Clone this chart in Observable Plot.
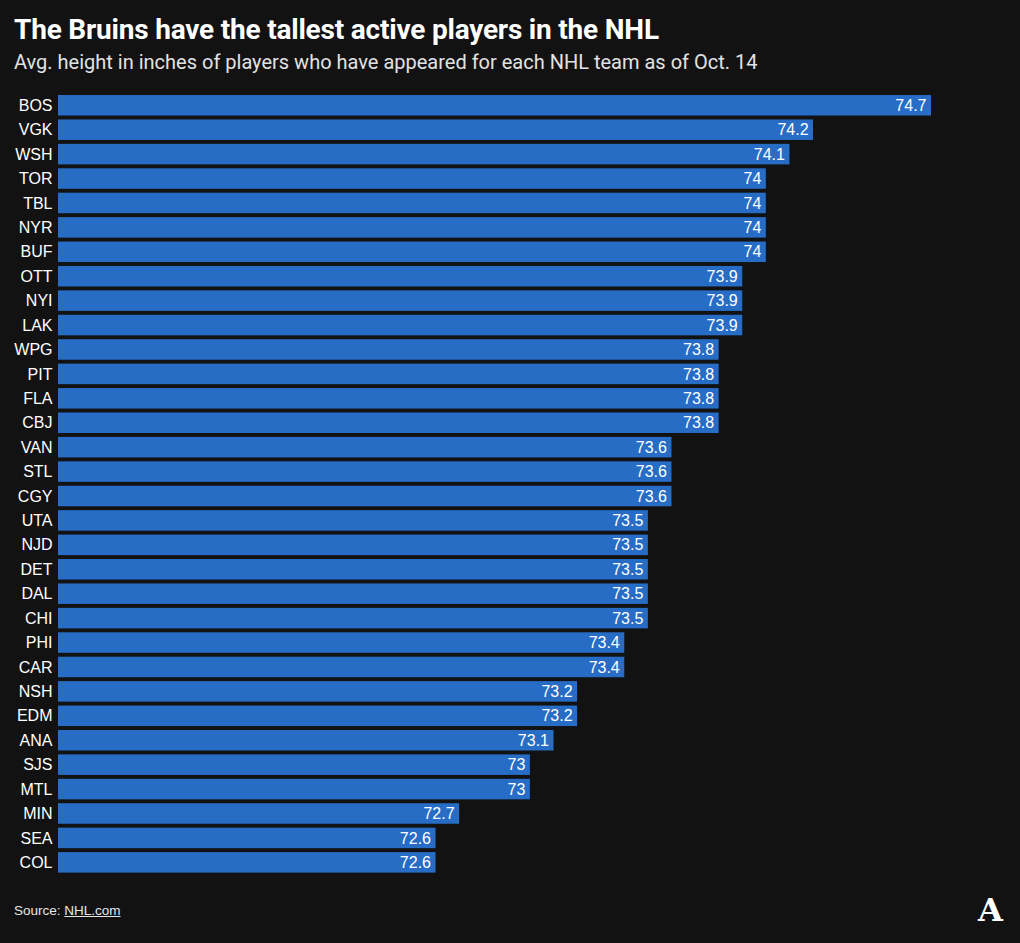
<!DOCTYPE html>
<html>
<head>
<meta charset="utf-8">
<script src="https://cdn.jsdelivr.net/npm/d3@7"></script>
<script src="https://cdn.jsdelivr.net/npm/@observablehq/plot@0.6"></script>
<style>
  html, body { margin: 0; padding: 0; background: #121212; width: 1020px; height: 943px; overflow: hidden; }
  body { position: relative; font-family: "Liberation Sans", Arial, sans-serif; color: #fff; }
  #title { position: absolute; left: 14px; top: 15px; font-family: Roboto, "Liberation Sans", sans-serif; font-weight: 700; font-size: 28px; line-height: 30px; color: #fff; letter-spacing: -0.2px; }
  #subtitle { position: absolute; left: 14px; top: 50px; font-family: Roboto, "Liberation Sans", sans-serif; font-size: 20px; line-height: 24px; color: #e2e2e2; }
  #chart { position: absolute; left: 0; top: 80px; line-height: 0; }
  #source { position: absolute; left: 14px; top: 903px; font-size: 13.5px; color: #e6e6e6; }
  #source a { color: #e6e6e6; text-decoration: underline; }
  #logo { position: absolute; left: 978px; top: 893px; font-family: "DejaVu Serif", serif; font-weight: 700; font-size: 32px; line-height: 34px; color: #fff; }
</style>
</head>
<body>
<div id="title">The Bruins have the tallest active players in the NHL</div>
<div id="subtitle">Avg. height in inches of players who have appeared for each NHL team as of Oct. 14</div>
<div id="chart"></div>
<div id="source">Source: <a>NHL.com</a></div>
<div id="logo">A</div>
<script>
const teams = ["BOS","VGK","WSH","TOR","TBL","NYR","BUF","OTT","NYI","LAK","WPG","PIT","FLA","CBJ","VAN","STL","CGY","UTA","NJD","DET","DAL","CHI","PHI","CAR","NSH","EDM","ANA","SJS","MTL","MIN","SEA","COL"];
const heights = [74.7,74.2,74.1,74,74,74,74,73.9,73.9,73.9,73.8,73.8,73.8,73.8,73.6,73.6,73.6,73.5,73.5,73.5,73.5,73.5,73.4,73.4,73.2,73.2,73.1,73,73,72.7,72.6,72.6];
const xDomain = [71, 74.7];

const data = teams.map((t, i) => ({team: t, height: heights[i]}));

const chart = Plot.plot({
  width: 1020,
  height: 800,
  marginLeft: 58,
  marginRight: 89,
  marginTop: 11.1,
  marginBottom: 3.5,
  style: { background: "transparent", color: "#fff", fontFamily: "'Liberation Sans', Arial, sans-serif", fontSize: "16px" },
  x: { domain: xDomain, axis: null },
  y: { domain: teams, padding: 0.16, round: false, label: null, axis: null },
  marks: [
    Plot.barX(data, { y: "team", x1: xDomain[0], x2: "height", fill: "#276dc6" }),
    Plot.text(data, { y: "team", x: "height", text: d => String(d.height), textAnchor: "end", dx: -5, fill: "#fff", fontSize: 16 }),
    Plot.axisY({ tickSize: 0, tickPadding: 6, fontSize: 16, label: null, color: "#fff" })
  ]
});
document.getElementById("chart").appendChild(chart);
</script>
</body>
</html>
